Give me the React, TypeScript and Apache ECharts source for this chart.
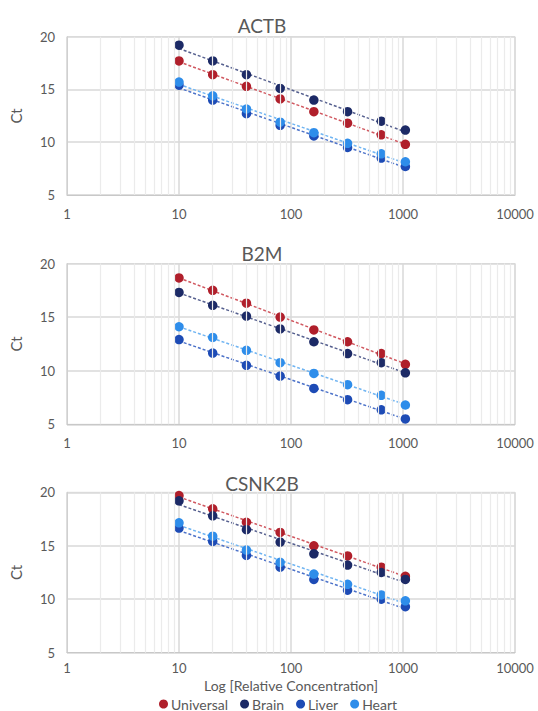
import React, { useEffect, useRef } from 'react';
import * as echarts from 'echarts';

// ---- data ----
const concentrations = [10, 20, 40, 80, 160, 320, 640, 1050];
const seriesNames = ['Universal', 'Brain', 'Liver', 'Heart'];
const genes = ['ACTB', 'B2M', 'CSNK2B'];

const actbUniversal = [17.7, 16.4, 15.3, 14.1, 12.9, 11.8, 10.7, 9.8];
const actbBrain = [19.2, 17.7, 16.4, 15.1, 14.0, 12.9, 12.0, 11.15];
const actbLiver = [15.4, 14.0, 12.7, 11.6, 10.6, 9.5, 8.5, 7.7];
const actbHeart = [15.7, 14.4, 13.15, 11.9, 10.9, 9.9, 8.9, 8.15];

const b2mUniversal = [18.65, 17.5, 16.3, 15.0, 13.8, 12.7, 11.6, 10.6];
const b2mBrain = [17.3, 16.1, 15.1, 13.9, 12.7, 11.6, 10.75, 9.8];
const b2mLiver = [12.9, 11.65, 10.5, 9.5, 8.35, 7.3, 6.35, 5.5];
const b2mHeart = [14.1, 13.1, 11.9, 10.75, 9.75, 8.7, 7.7, 6.8];

const csnkUniversal = [19.7, 18.45, 17.2, 16.25, 15.0, 14.05, 13.0, 12.15];
const csnkBrain = [19.2, 17.8, 16.5, 15.35, 14.25, 13.2, 12.5, 11.85];
const csnkLiver = [16.65, 15.4, 14.1, 13.0, 11.85, 10.85, 10.0, 9.3];
const csnkHeart = [17.15, 15.9, 14.6, 13.45, 12.35, 11.4, 10.4, 9.85];

const geneData = [
  [actbUniversal, actbBrain, actbLiver, actbHeart],
  [b2mUniversal, b2mBrain, b2mLiver, b2mHeart],
  [csnkUniversal, csnkBrain, csnkLiver, csnkHeart],
];

const xMin = 1;
const xMax = 10000;
const yTicks = [5, 10, 15, 20];
const minorMultipliers = [2, 3, 4, 5, 6, 7, 8, 9];
const decades = [1, 10, 100, 1000];

const colors = ['#B01F2B', '#1C2A66', '#1D4BB5', '#2E8DEA'];
const trendColors = ['#D0575F', '#56608F', '#4C72C9', '#6FB4F2'];

// ---- layout ----
const gridTops = [36.7, 263.5, 492.3];
const gridHeights = [158.3, 160.8, 160.4];
const gridLeft = 62;
const gridRight = 23;
const titleCenterX = 262;
const titleYs = [25, 253, 483];
const textColor = '#595959';
const fontFamily = 'Lato, "Open Sans", sans-serif';

function fitLine(xs: number[], ys: number[]) {
  const lx = xs.map((x) => Math.log10(x));
  const n = lx.length;
  const mx = lx.reduce((a, b) => a + b, 0) / n;
  const my = ys.reduce((a, b) => a + b, 0) / n;
  let num = 0;
  let den = 0;
  for (let i = 0; i < n; i++) {
    num += (lx[i] - mx) * (ys[i] - my);
    den += (lx[i] - mx) * (lx[i] - mx);
  }
  const slope = num / den;
  const intercept = my - slope * mx;
  const x0 = xs[0];
  const x1 = xs[n - 1];
  return [
    [x0, intercept + slope * Math.log10(x0)],
    [x1, intercept + slope * Math.log10(x1)],
  ];
}

export default function App() {
  const ref = useRef<HTMLDivElement>(null);

  useEffect(() => {
    if (!ref.current) return;
    const chart = echarts.init(ref.current, undefined, { renderer: 'svg' });

    const minorValues: number[] = [];
    decades.forEach((d) => minorMultipliers.forEach((m) => minorValues.push(d * m)));

    const grids: any[] = [];
    const xAxes: any[] = [];
    const yAxes: any[] = [];
    const series: any[] = [];
    const graphics: any[] = [];

    genes.forEach((gene, gi) => {
      grids.push({
        left: gridLeft,
        right: gridRight,
        top: gridTops[gi],
        height: gridHeights[gi],
        show: true,
        borderColor: '#DCDCDC',
        borderWidth: 1,
        backgroundColor: '#FFFFFF',
      });
      xAxes.push({
        type: 'log',
        logBase: 10,
        gridIndex: gi,
        min: xMin,
        max: xMax,
        name: gi === 2 ? 'Log [Relative Concentration]' : '',
        nameLocation: 'middle',
        nameGap: 26,
        nameTextStyle: { color: textColor, fontSize: 14, lineHeight: 14, fontFamily },
        axisLine: { show: true, lineStyle: { color: '#C8C8C8', width: 1 } },
        axisTick: { show: false },
        axisLabel: {
          color: textColor,
          fontSize: 13,
          lineHeight: 13,
          fontFamily,
          margin: gi === 2 ? 9 : 12,
          formatter: (v: number) => String(Math.round(v)),
        },
        splitLine: { show: true, lineStyle: { color: '#D9D9D9', width: 1.5 } },
      });
      yAxes.push({
        type: 'value',
        gridIndex: gi,
        min: yTicks[0],
        max: yTicks[yTicks.length - 1],
        interval: yTicks[1] - yTicks[0],
        name: 'Ct',
        nameLocation: 'middle',
        nameGap: 44,
        nameTextStyle: { color: textColor, fontSize: 15, fontFamily },
        axisLine: { show: true, lineStyle: { color: '#D0D0D0' } },
        axisTick: { show: false },
        axisLabel: { color: textColor, fontSize: 13, fontFamily, margin: 12 },
        splitLine: { show: true, lineStyle: { color: '#D9D9D9', width: 1.5 } },
      });

      // minor vertical grid lines
      series.push({
        type: 'line',
        name: 'minor-grid-' + gi,
        xAxisIndex: gi,
        yAxisIndex: gi,
        data: [],
        silent: true,
        z: 0,
        markLine: {
          silent: true,
          symbol: ['none', 'none'],
          label: { show: false },
          lineStyle: { color: '#EBEBEB', type: 'solid', width: 1.2 },
          data: minorValues.map((v) => ({ xAxis: v })),
          animation: false,
        },
      });

      seriesNames.forEach((sn, si) => {
        const ys = geneData[gi][si];
        series.push({
          type: 'line',
          name: sn + ' trend',
          xAxisIndex: gi,
          yAxisIndex: gi,
          data: fitLine(concentrations, ys),
          showSymbol: false,
          symbol: 'none',
          silent: true,
          z: 2,
          lineStyle: { color: trendColors[si], width: 1.5, type: [3, 2] },
        });
      });
      seriesNames.forEach((sn, si) => {
        const ys = geneData[gi][si];
        series.push({
          type: 'scatter',
          name: sn,
          xAxisIndex: gi,
          yAxisIndex: gi,
          data: concentrations.map((c, i) => [c, ys[i]]),
          symbol: 'circle',
          symbolSize: 9.5,
          z: 3,
          itemStyle: { color: colors[si], opacity: 1 },
        });
      });

      graphics.push({
        type: 'text',
        x: titleCenterX,
        y: titleYs[gi],
        style: {
          text: gene,
          textAlign: 'center',
          textVerticalAlign: 'middle',
          fontSize: 19,
          fontFamily,
          fill: textColor,
        },
      });
    });

    chart.setOption({
      animation: false,
      backgroundColor: '#FFFFFF',
      grid: grids,
      xAxis: xAxes,
      yAxis: yAxes,
      series,
      graphic: graphics,
      legend: {
        data: seriesNames.map((n, i) => ({ name: n, icon: 'circle', itemStyle: { color: colors[i] } })),
        left: 159,
        top: 697,
        padding: 0,
        itemWidth: 9,
        itemHeight: 9,
        itemGap: 12,
        textStyle: { color: textColor, fontSize: 14, lineHeight: 14, fontFamily, padding: [0, 0, 0, -2] },
      },
    });

    return () => chart.dispose();
  }, []);

  return (
    <div
      ref={ref}
      style={{ position: 'fixed', left: 0, top: 0, width: 538, height: 711, background: '#fff' }}
    />
  );
}
